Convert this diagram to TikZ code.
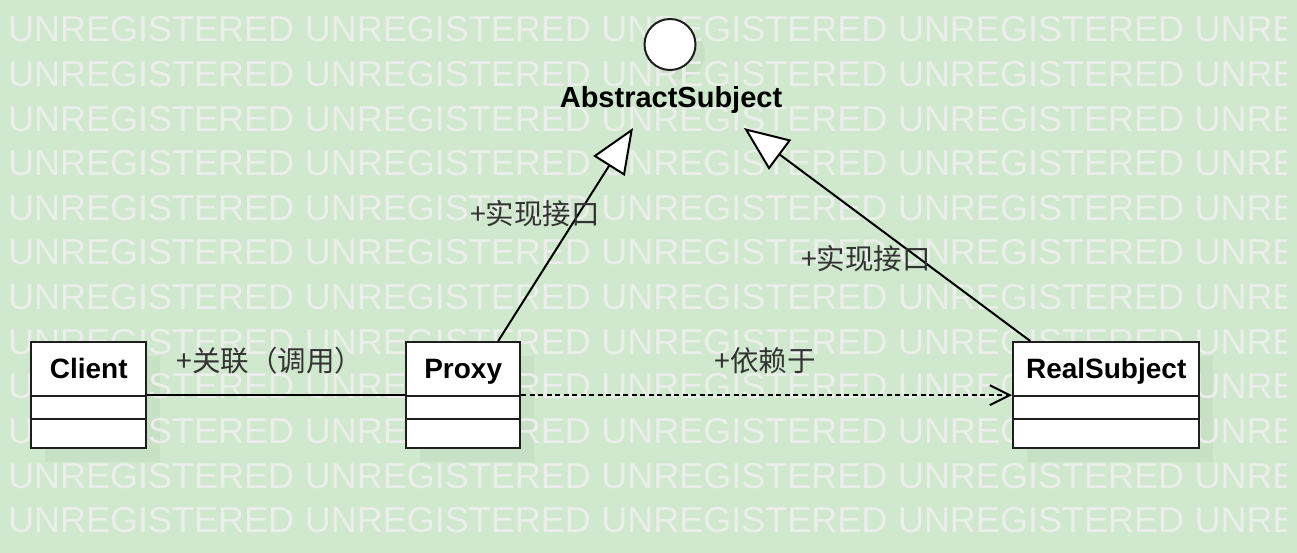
\documentclass[tikz,border=0pt]{standalone}
\usepackage{fontspec}
\setmainfont{Liberation Sans}
\newfontfamily\cjkfont{Noto Sans CJK SC}
\usetikzlibrary{arrows.meta}
\definecolor{bgc}{HTML}{D0E8CD}
\definecolor{wmc}{HTML}{EBEEEA}
\definecolor{shadc}{HTML}{C8E0C5}
\definecolor{edgec}{HTML}{1E1E1E}
\definecolor{lblc}{HTML}{333333}
\tikzset{
  wm/.style={font=\fontsize{36pt}{40pt}\selectfont, text=wmc, inner sep=0pt, anchor=base west},
  clsbox/.style={draw=edgec, line width=2.4pt, fill=white, inner sep=0pt, anchor=north west, minimum height=106pt},
  shadowbox/.style={fill=shadc, draw=none, inner sep=0pt, anchor=north west, minimum height=106pt},
  divider/.style={draw=edgec, line width=2.2pt},
  ttl/.style={font=\bfseries\fontsize{28pt}{32pt}\selectfont, text=black, inner sep=0pt, anchor=base},
  lbl/.style={font=\cjkfont\fontsize{28.5pt}{32pt}\selectfont, text=lblc, inner sep=0pt},
  conn/.style={draw=black, line width=2pt},
  realize/.style={conn, -{Triangle[length=45pt, width=37pt, fill=white, line width=2pt]}},
  depend/.style={conn, dash pattern=on 5pt off 3.5pt, -{Straight Barb[length=20pt, width=20pt, line width=2pt]}},
}
\begin{document}
\begin{tikzpicture}[x=1pt, y=-1pt]
\fill[bgc] (0,0) rectangle (1297,553);
\useasboundingbox (0,0) rectangle (1297,553);

% soft shadows
\node[shadowbox, minimum width=115pt] (clientS) at (45,356) {};
\node[shadowbox, minimum width=114pt] (proxyS) at (420,356) {};
\node[shadowbox, minimum width=186pt] (realS) at (1027,356) {};
\node[circle, fill=shadc, minimum size=50pt, inner sep=0pt] (ifaceS) at (680,54) {};

% watermark
\begin{scope}
\clip (0,0) rectangle (1286,553);
\foreach \r in {0,...,11} {
  \foreach \c in {0,...,4} {
    \node[wm] (wm-\r-\c) at (8+296.6*\c, 42+44.6*\r) {UNREGISTERED};
  }
}
\end{scope}

% interface
\node[draw=edgec, line width=2pt, circle, fill=white, minimum size=51pt, inner sep=0pt] (iface) at (670,44.5) {};
\node[ttl, font=\bfseries\fontsize{29pt}{32pt}\selectfont] (abs) at (671,107.5) {AbstractSubject};
\coordinate (tipL) at (633,128);
\coordinate (tipR) at (744,128);

% classes
\node[clsbox, minimum width=115pt] (client) at (30,341) {};
\draw[divider] ([yshift=-55pt]client.north west) -- ([yshift=-55pt]client.north east);
\draw[divider] ([yshift=-78pt]client.north west) -- ([yshift=-78pt]client.north east);
\node[ttl] (clientT) at ([yshift=-37.5pt]client.north) {Client};

\node[clsbox, minimum width=114pt] (proxy) at (405,341) {};
\draw[divider] ([yshift=-55pt]proxy.north west) -- ([yshift=-55pt]proxy.north east);
\draw[divider] ([yshift=-78pt]proxy.north west) -- ([yshift=-78pt]proxy.north east);
\node[ttl] (proxyT) at ([yshift=-37.5pt]proxy.north) {Proxy};

\node[clsbox, minimum width=186pt] (real) at (1012,341) {};
\draw[divider] ([yshift=-55pt]real.north west) -- ([yshift=-55pt]real.north east);
\draw[divider] ([yshift=-78pt]real.north west) -- ([yshift=-78pt]real.north east);
\node[ttl] (realT) at ([yshift=-37.5pt]real.north) {RealSubject};

% connectors
\draw[conn] (client.east) -- (proxy.west);
\draw[depend] (proxy.east) -- (real.west);
\draw[realize] ([xshift=35pt]proxy.north) -- (tipL);
\draw[realize] ([xshift=-76pt]real.north) -- (tipR);

% labels
\node[lbl] (lAssoc) at (270,361) {+关联（调用）};
\node[lbl] (lDep) at (765,361) {+依赖于};
\node[lbl] (lRealL) at (535,214) {+实现接口};
\node[lbl] (lRealR) at (866,259) {+实现接口};
\end{tikzpicture}
\end{document}
